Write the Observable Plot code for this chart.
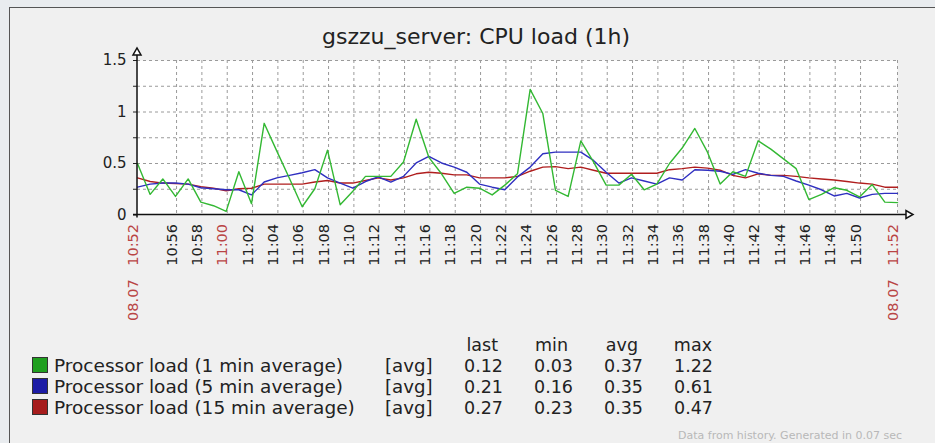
<!DOCTYPE html>
<html>
<head>
<meta charset="utf-8">
<script src="https://cdn.jsdelivr.net/npm/d3@7"></script>
<script src="https://cdn.jsdelivr.net/npm/@observablehq/plot@0.6"></script>
<style>
  html, body { margin: 0; padding: 0; background: #e9ecef; }
  #wrap { position: relative; width: 935px; height: 443px; overflow: hidden; font-family: "DejaVu Sans", sans-serif; }
  #frame { position: absolute; left: 9px; top: 7px; width: 940px; height: 450px; background: #f0f0f0;
           border-left: 1.5px solid #555; border-top: 1.5px solid #555; }
  #wrap svg { position: absolute; left: 0; top: 0; }
</style>
</head>
<body>
<div id="wrap"><div id="frame"></div></div>
<script>
// ---------- data ----------
const chartTitle = "gszzu_server: CPU load (1h)";
const dateLabel = "08.07";
const times = [
  "10:52:55","10:53:55","10:54:55","10:55:55","10:56:55","10:57:55","10:58:55","10:59:55","11:00:55","11:01:55",
  "11:02:55","11:03:55","11:04:55","11:05:55","11:06:55","11:07:55","11:08:55","11:09:55","11:10:55","11:11:55",
  "11:12:55","11:13:55","11:14:55","11:15:55","11:16:55","11:17:55","11:18:55","11:19:55","11:20:55","11:21:55",
  "11:22:55","11:23:55","11:24:55","11:25:55","11:26:55","11:27:55","11:28:55","11:29:55","11:30:55","11:31:55",
  "11:32:55","11:33:55","11:34:55","11:35:55","11:36:55","11:37:55","11:38:55","11:39:55","11:40:55","11:41:55",
  "11:42:55","11:43:55","11:44:55","11:45:55","11:46:55","11:47:55","11:48:55","11:49:55","11:50:55","11:51:55",
  "11:52:55"
];
const load1 = [
  0.50,0.20,0.35,0.18,0.35,0.125,0.09,0.035,0.42,0.11,
  0.89,0.62,0.355,0.08,0.255,0.63,0.10,0.23,0.375,0.375,
  0.375,0.515,0.93,0.56,0.40,0.21,0.27,0.26,0.195,0.29,
  0.40,1.22,0.985,0.24,0.18,0.72,0.515,0.29,0.29,0.395,
  0.245,0.30,0.50,0.65,0.84,0.61,0.30,0.42,0.375,0.72,
  0.64,0.545,0.45,0.15,0.20,0.265,0.24,0.175,0.295,0.125,0.12
];
const load5 = [
  0.27,0.30,0.31,0.31,0.30,0.265,0.255,0.245,0.245,0.195,
  0.32,0.36,0.385,0.41,0.44,0.36,0.31,0.26,0.325,0.37,
  0.32,0.375,0.505,0.57,0.505,0.465,0.415,0.30,0.27,0.245,
  0.37,0.465,0.595,0.61,0.61,0.61,0.53,0.415,0.31,0.36,
  0.33,0.30,0.36,0.34,0.44,0.435,0.425,0.395,0.44,0.405,
  0.385,0.375,0.33,0.29,0.245,0.185,0.21,0.165,0.20,0.21,0.21
];
const load15 = [
  0.36,0.325,0.31,0.305,0.30,0.275,0.26,0.235,0.255,0.26,
  0.30,0.30,0.30,0.30,0.32,0.335,0.31,0.31,0.335,0.36,
  0.34,0.36,0.40,0.415,0.405,0.39,0.39,0.36,0.36,0.36,
  0.375,0.425,0.465,0.47,0.45,0.465,0.435,0.405,0.405,0.405,
  0.405,0.405,0.44,0.45,0.465,0.455,0.435,0.385,0.36,0.40,
  0.385,0.385,0.375,0.36,0.35,0.34,0.325,0.31,0.30,0.27,0.27
];
const seriesNames = ["Processor load (1 min average)", "Processor load (5 min average)", "Processor load (15 min average)"];
const seriesColors = ["#33b833", "#2f2fc0", "#b01e1e"];
const legendColors = ["#1f9f1f", "#1c1ca6", "#a61c1c"];
const statHeaders = ["last", "min", "avg", "max"];
const statLast = ["0.12", "0.21", "0.27"];
const statMin  = ["0.03", "0.16", "0.23"];
const statAvg  = ["0.37", "0.35", "0.35"];
const statMax  = ["1.22", "0.61", "0.47"];
const yTicks = [0, 0.25, 0.5, 0.75, 1, 1.25, 1.5];
const xTickTimes = ["10:56","10:58","11:02","11:04","11:06","11:08","11:10","11:12","11:14","11:16","11:18","11:20",
  "11:22","11:24","11:26","11:28","11:30","11:32","11:34","11:36","11:38","11:40","11:42","11:44","11:46","11:48","11:50"];
const xRedTimes = ["10:52:55", "11:00", "11:52:55"];
const xRedText = ["08.07 10:52", "11:00", "08.07 11:52"];
const xGridTimes = ["10:56","10:58","11:00","11:02","11:04","11:06","11:08","11:10","11:12","11:14","11:16","11:18","11:20",
  "11:22","11:24","11:26","11:28","11:30","11:32","11:34","11:36","11:38","11:40","11:42","11:44","11:46","11:48","11:50","11:52:55"];
const footerText = "Data from history. Generated in 0.07 sec";

// ---------- build ----------
const parseT = s => { const p = s.split(":").map(Number); return new Date(2023, 6, 8, p[0], p[1], p[2] || 0); };
const tStart = parseT(times[0]), tEnd = parseT(times[times.length - 1]);
const rows = [];
[load1, load5, load15].forEach((arr, k) => arr.forEach((v, i) => rows.push({t: parseT(times[i]), v, k})));
const xLabels = xTickTimes.map(s => ({t: parseT(s), text: s}));
const xRed = xRedTimes.map((s, i) => ({t: parseT(s), text: xRedText[i]}));

const chart = Plot.plot({
  width: 935, height: 330,
  marginLeft: 137, marginRight: 38, marginTop: 60, marginBottom: 115.5,
  style: {background: "transparent", fontFamily: "DejaVu Sans", fontSize: "15px", color: "#222"},
  x: {type: "time", domain: [tStart, tEnd], axis: null},
  y: {domain: [0, 1.5], ticks: yTicks, tickSize: 4, tickPadding: 7, label: null,
      tickFormat: d => (d * 2) % 1 === 0 ? String(d) : ""},
  marks: [
    Plot.frame({fill: "white", stroke: null}),
    Plot.ruleY(yTicks.slice(1), {stroke: "#9a9a9a", strokeDasharray: "3,3", strokeWidth: 1}),
    Plot.ruleX(xGridTimes.map(parseT), {stroke: "#9a9a9a", strokeDasharray: "3,3", strokeWidth: 1}),
    ...[0, 1, 2].reverse().map(k => Plot.line(rows.filter(d => d.k === k), {x: "t", y: "v", stroke: seriesColors[k], strokeWidth: 1.4})),
    Plot.text(xLabels, {x: "t", text: "text", frameAnchor: "bottom", rotate: -90, textAnchor: "end", dy: 9, fill: "#222", fontSize: 14.5}),
    Plot.text(xRed, {x: "t", text: "text", frameAnchor: "bottom", rotate: -90, textAnchor: "end", dy: 9, fill: "#b94444", fontSize: 14.5})
  ]
});
document.getElementById("wrap").appendChild(chart);

// axes with arrow heads, positioned via the chart's own scales
const sx = chart.scale("x"), sy = chart.scale("y");
const x0 = sx.apply(tStart), x1 = sx.apply(tEnd), y0 = sy.apply(0), yT = sy.apply(1.5);
const svg = d3.select(chart);
const ax = svg.append("g").attr("stroke", "#111").attr("stroke-width", 1.5);
ax.append("line").attr("x1", x0).attr("x2", x0).attr("y1", y0 + 3).attr("y2", yT - 5);
ax.append("line").attr("x1", x0 - 4).attr("x2", x1 + 9).attr("y1", y0).attr("y2", y0);
ax.append("path").attr("fill", "white").attr("d", `M${x0 - 4},${yT - 5}L${x0 + 4},${yT - 5}L${x0},${yT - 12}Z`);
ax.append("path").attr("fill", "white").attr("d", `M${x1 + 9},${y0 - 4}L${x1 + 9},${y0 + 4}L${x1 + 16},${y0}Z`);
svg.selectAll("text").filter(function() { return this.textContent.startsWith(dateLabel); }).attr("word-spacing", "9px");

// overlay: title, legend, footer
const ov = d3.select("#wrap").append("svg").attr("width", 935).attr("height", 443)
  .attr("font-family", "DejaVu Sans").style("pointer-events", "none");
ov.append("text").attr("x", 476).attr("y", 44).attr("text-anchor", "middle").attr("font-size", 22).attr("fill", "#222").text(chartTitle);
const rowY = [372, 393, 414];
const colX = [503, 573, 643, 713];
statHeaders.forEach((h, j) => ov.append("text").attr("x", colX[j] - (j === 3 ? 1 : 5)).attr("y", 351).attr("text-anchor", "end")
  .attr("font-size", 17.5).attr("fill", "#222").text(h));
seriesNames.forEach((name, i) => {
  ov.append("rect").attr("x", 32.5).attr("y", rowY[i] - 14.5).attr("width", 15).attr("height", 15)
    .attr("fill", legendColors[i]).attr("stroke", "#333").attr("stroke-width", 1);
  ov.append("text").attr("x", 54).attr("y", rowY[i]).attr("font-size", 18.5).attr("fill", "#222").text(name);
  ov.append("text").attr("x", 385).attr("y", rowY[i]).attr("font-size", 18.2).attr("fill", "#222").text("[avg]");
  [statLast, statMin, statAvg, statMax].forEach((col, j) =>
    ov.append("text").attr("x", colX[j]).attr("y", rowY[i]).attr("text-anchor", "end").attr("font-size", 17.5).attr("fill", "#222").text(col[i]));
});
ov.append("text").attr("x", 678).attr("y", 439).attr("font-size", 11).attr("fill", "#b8b8b8").text(footerText);
</script>
</body>
</html>
